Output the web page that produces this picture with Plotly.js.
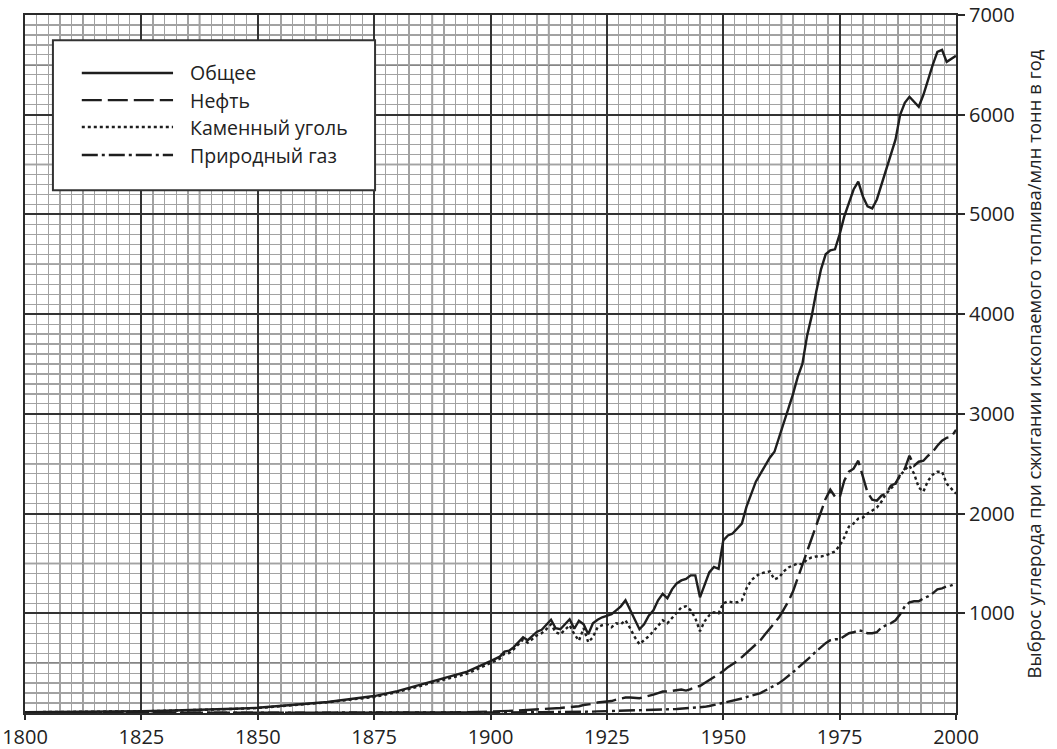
<!DOCTYPE html>
<html>
<head>
<meta charset="utf-8">
<script src="https://cdn.plot.ly/plotly-3.0.1.min.js"></script>
<style>html,body{margin:0;padding:0;background:#fff;}#chart{width:1057px;height:749px;}</style>
</head>
<body>
<div id="chart"></div>
<script>
const years = [1800,1805,1810,1815,1820,1825,1830,1835,1840,1845,1850,1855,1860,1865,1870,1875,1880,1885,1890,1895,
1900,1901,1902,1903,1904,1905,1906,1907,1908,1909,1910,1911,1912,1913,1914,1915,1916,1917,1918,1919,
1920,1921,1922,1923,1924,1925,1926,1927,1928,1929,1930,1931,1932,1933,1934,1935,1936,1937,1938,1939,
1940,1941,1942,1943,1944,1945,1946,1947,1948,1949,1950,1951,1952,1953,1954,1955,1956,1957,1958,1959,
1960,1961,1962,1963,1964,1965,1966,1967,1968,1969,1970,1971,1972,1973,1974,1975,1976,1977,1978,1979,
1980,1981,1982,1983,1984,1985,1986,1987,1988,1989,1990,1991,1992,1993,1994,1995,1996,1997,1998,1999,2000];

const total = [8,9,10,12,14,17,22,27,33,42,52,70,90,110,140,170,220,285,350,415,
520,545,565,615,625,660,710,760,730,775,815,835,880,935,850,840,890,940,845,925,
890,790,900,935,960,975,990,1030,1070,1130,1030,940,840,890,975,1030,1130,1195,1150,1240,
1300,1330,1345,1380,1380,1160,1290,1410,1465,1445,1730,1780,1800,1850,1900,2070,2200,2320,2400,2480,
2560,2620,2760,2900,3040,3200,3370,3500,3780,3980,4230,4450,4600,4640,4650,4800,4980,5120,5250,5330,
5180,5080,5060,5150,5300,5450,5620,5750,6000,6120,6180,6130,6080,6200,6360,6500,6630,6650,6530,6560,6590];

const oil = [0,0,0,0,0,0,0,0,0,0,0,0,0,0,1,2,3,4,5,8,
12,14,15,17,19,22,24,28,30,33,36,39,42,45,46,50,55,60,62,68,
80,85,92,105,110,115,120,135,145,155,155,150,148,160,170,185,200,215,215,220,
225,235,225,240,265,270,300,330,365,390,420,460,490,520,560,600,640,690,730,790,
850,900,960,1040,1120,1220,1350,1480,1620,1750,1880,2000,2150,2240,2170,2160,2330,2420,2450,2530,
2370,2210,2140,2130,2180,2200,2280,2300,2390,2450,2580,2480,2520,2530,2580,2620,2680,2730,2760,2770,2840];

const coal = [8,9,10,12,14,17,22,27,32,41,50,68,86,106,135,160,210,275,335,395,
505,530,545,595,600,640,685,735,705,745,780,800,840,890,810,790,835,880,790,725,
850,710,760,860,880,890,860,900,890,930,850,760,690,730,770,820,880,930,900,950,
1000,1060,1070,1030,950,820,920,980,1010,1000,1100,1120,1110,1110,1130,1250,1330,1370,1400,1410,
1420,1340,1360,1420,1460,1480,1500,1490,1540,1560,1570,1570,1580,1600,1620,1680,1760,1870,1900,1950,
1960,2000,2030,2060,2120,2200,2250,2300,2380,2440,2480,2400,2260,2220,2330,2390,2420,2420,2300,2250,2200];

const gas = [0,0,0,0,0,0,0,0,0,0,0,0,0,0,0,0,0,1,2,2,
3,3,3,4,4,5,5,6,6,7,7,8,8,9,9,10,10,11,11,12,
12,13,14,16,17,18,19,21,23,25,26,25,24,25,27,30,32,35,36,38,
40,43,46,50,53,55,62,70,80,90,100,110,120,132,145,160,175,188,200,225,
250,275,300,335,370,410,450,490,530,575,620,660,700,730,740,740,770,800,810,830,
820,800,800,810,860,880,900,930,990,1070,1110,1120,1120,1150,1170,1200,1240,1250,1270,1280,1300];

const seriesNames = ['Общее','Нефть','Каменный уголь','Природный газ'];
const xTicks = [1800,1825,1850,1875,1900,1925,1950,1975,2000];
const yTicks = [1000,2000,3000,4000,5000,6000,7000];
const yTitle = 'Выброс углерода при сжигании ископаемого топлива/млн тонн в год';

const ink = '#1e1e1e';
const dashes = ['solid','20px,6px','3px,3px','16px,4px,3px,4px'];
const seriesVals = [total, oil, coal, gas];

const traces = seriesVals.map((v,i)=>({
  type:'scatter', mode:'lines', x: years, y: v, name: seriesNames[i],
  line:{color: ink, width: 2.4, dash: dashes[i]}, showlegend:false, hoverinfo:'skip'
}));

const shapes = [];
// medium grid lines (half-way between major lines)
for (let k=0;k<8;k++){
  const xv = xTicks[k] + 12.5;
  shapes.push({type:'line', layer:'between', xref:'x', yref:'paper', x0:xv, x1:xv, y0:0, y1:1,
    line:{color:'#5e5e5e', width:1.6}});
}
for (let k=0;k<7;k++){
  const yv = k*1000 + 500;
  shapes.push({type:'line', layer:'between', xref:'paper', yref:'y', x0:0, x1:1, y0:yv, y1:yv,
    line:{color:'#5e5e5e', width:1.6}});
}
// manual legend box
const lg = {x0:0.030, x1:0.376, y0:0.749, y1:0.964, lx0:0.061, lx1:0.159, tx:0.175, rows:[0.917,0.878,0.8395,0.7994]};
shapes.push({type:'rect', layer:'above', xref:'paper', yref:'paper', x0:lg.x0, x1:lg.x1, y0:lg.y0, y1:lg.y1,
  fillcolor:'#ffffff', line:{color:'#333333', width:2}});
const annotations = [];
seriesNames.forEach((n,i)=>{
  shapes.push({type:'line', layer:'above', xref:'paper', yref:'paper', x0:lg.lx0, x1:lg.lx1, y0:lg.rows[i], y1:lg.rows[i],
    line:{color: ink, width:2.4, dash: dashes[i]}});
  annotations.push({xref:'paper', yref:'paper', x:lg.tx, y:lg.rows[i], xanchor:'left', yanchor:'middle',
    text:n, showarrow:false, font:{family:'Open Sans', size:19.5, color:'#222'}});
});

const layout = {
  width:1057, height:749,
  margin:{l:25, r:101, t:15, b:36, pad:0},
  paper_bgcolor:'#ffffff', plot_bgcolor:'#ffffff',
  font:{family:'Open Sans', size:20, color:'#222'},
  xaxis:{range:[1800,2000], tickvals:xTicks, ticktext:xTicks.map(String),
    showgrid:true, gridcolor:'#333333', gridwidth:2,
    minor:{dtick:2.5, tick0:1800, showgrid:true, gridcolor:'#a2a2a2', gridwidth:1.2, ticks:''},
    showline:true, mirror:true, linecolor:'#2a2a2a', linewidth:2,
    ticks:'outside', ticklen:5, tickwidth:2, tickcolor:'#2a2a2a',
    tickfont:{family:'Open Sans', size:20, color:'#222'}, zeroline:false, fixedrange:true},
  yaxis:{range:[0,7000], side:'right', tickvals:yTicks, ticktext:yTicks.map(String),
    showgrid:true, gridcolor:'#333333', gridwidth:2,
    minor:{dtick:100, tick0:0, showgrid:true, gridcolor:'#a2a2a2', gridwidth:1.2, ticks:''},
    showline:true, mirror:true, linecolor:'#2a2a2a', linewidth:2,
    ticks:'outside', ticklen:7, tickwidth:2, tickcolor:'#2a2a2a',
    tickfont:{family:'Open Sans', size:20, color:'#222'}, zeroline:false, fixedrange:true,
    title:{text:yTitle, font:{family:'Open Sans', size:18.5, color:'#222'}, standoff:14}},
  shapes: shapes,
  annotations: annotations,
  showlegend:false
};

Plotly.newPlot('chart', traces, layout, {displayModeBar:false, staticPlot:true});
</script>
</body>
</html>
